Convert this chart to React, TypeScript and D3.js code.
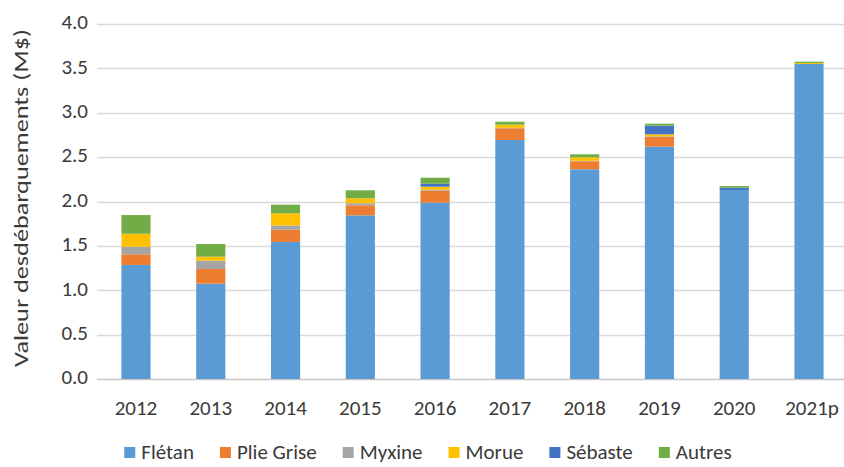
import { useEffect, useRef } from 'react';
import * as d3 from 'd3';

// Valeur des débarquements (M$) par espèce
const years = ['2012', '2013', '2014', '2015', '2016', '2017', '2018', '2019', '2020', '2021p'];
const fletan = [1.285, 1.074, 1.544, 1.844, 1.987, 2.693, 2.363, 2.618, 2.13, 3.549];
const plieGrise = [0.12, 0.166, 0.138, 0.113, 0.135, 0.132, 0.09, 0.112, 0, 0];
const myxine = [0.085, 0.093, 0.048, 0.023, 0.01, 0.005, 0.005, 0.005, 0, 0];
const morue = [0.147, 0.045, 0.137, 0.056, 0.035, 0.035, 0.04, 0.022, 0, 0.011];
const sebaste = [0, 0, 0, 0, 0.033, 0, 0, 0.097, 0.026, 0];
const autres = [0.21, 0.143, 0.097, 0.09, 0.068, 0.034, 0.034, 0.023, 0.019, 0.015];

const seriesNames = ['Flétan', 'Plie Grise', 'Myxine', 'Morue', 'Sébaste', 'Autres'];
const seriesValues = [fletan, plieGrise, myxine, morue, sebaste, autres];
const colors = ['#5B9BD5', '#ED7D31', '#A5A5A5', '#FFC000', '#4472C4', '#70AD47'];
const yTicks = [0, 0.5, 1, 1.5, 2, 2.5, 3, 3.5, 4];

const FONT = 'Carlito, Calibri, "Liberation Sans", Arial, sans-serif';

export default function App() {
  const svgRef = useRef<SVGSVGElement>(null);

  useEffect(() => {
    if (!svgRef.current) return;
    const W = 844;
    const H = 467;
    const svg = d3.select(svgRef.current);
    svg.selectAll('*').remove();
    svg.attr('width', W).attr('height', H).attr('viewBox', `0 0 ${W} ${H}`);

    const rows = years.map((yr, i) => {
      const row: Record<string, number | string> = { year: yr };
      seriesNames.forEach((s, j) => (row[s] = seriesValues[j][i]));
      return row;
    });

    const x = d3
      .scaleBand()
      .domain(years)
      .range([98.6, 846.4])
      .paddingInner(0.61)
      .paddingOuter(0.305);
    const y = d3.scaleLinear().domain([0, 4]).range([379, 24]);

    // grid
    svg
      .append('g')
      .selectAll('line')
      .data(yTicks)
      .join('line')
      .attr('x1', 97)
      .attr('x2', W)
      .attr('y1', (d) => Math.round(y(d)) + 0.5)
      .attr('y2', (d) => Math.round(y(d)) + 0.5)
      .attr('stroke', (d) => (d === 0 ? '#c8c8c8' : '#d9d9d9'))
      .attr('stroke-width', 1.5);

    // y tick labels
    svg
      .append('g')
      .selectAll('text')
      .data(yTicks)
      .join('text')
      .attr('x', 88)
      .attr('y', (d) => y(d) - 2)
      .attr('dy', '0.35em')
      .attr('text-anchor', 'end')
      .attr('font-family', FONT)
      .attr('font-size', 21)
      .attr('fill', '#3a3a3a')
      .text((d) => d3.format('.1f')(d));

    // stacked bars
    const stack = d3.stack<Record<string, number | string>>().keys(seriesNames)
      .value((d, k) => d[k] as number);
    const layers = stack(rows);

    svg
      .append('g')
      .selectAll('g')
      .data(layers)
      .join('g')
      .attr('fill', (_, i) => colors[i])
      .selectAll('rect')
      .data((d) => d)
      .join('rect')
      .attr('x', (d) => x(d.data.year as string) ?? 0)
      .attr('width', x.bandwidth())
      .attr('y', (d) => y(d[1]))
      .attr('height', (d) => Math.max(0, y(d[0]) - y(d[1])));

    // x labels
    svg
      .append('g')
      .selectAll('text')
      .data(years)
      .join('text')
      .attr('x', (d) => (x(d) ?? 0) + x.bandwidth() / 2 + (d.endsWith('p') ? 3 : 0))
      .attr('y', 415)
      .attr('text-anchor', 'middle')
      .attr('font-family', FONT)
      .attr('font-size', 21)
      .attr('fill', '#3a3a3a')
      .text((d) => d);

    // y axis title
    svg
      .append('text')
      .attr('transform', 'translate(28,198) rotate(-90)')
      .attr('text-anchor', 'middle')
      .attr('font-family', FONT)
      .attr('font-size', 21)
      .attr('fill', '#3a3a3a')
      .attr('textLength', 338)
      .attr('lengthAdjust', 'spacingAndGlyphs')
      .text('Valeur desdébarquements (M$)');

    // legend
    const legendY = 452;
    const legend = svg.append('g');
    let cx = 0;
    seriesNames.forEach((name, i) => {
      const g = legend.append('g');
      g.append('rect').attr('x', 0).attr('y', -5).attr('width', 11).attr('height', 11).attr('fill', colors[i]);
      const t = g
        .append('text')
        .attr('x', 17)
        .attr('dy', '0.35em')
        .attr('font-family', FONT)
        .attr('font-size', 21)
        .attr('fill', '#3a3a3a')
        .text(name);
      const w = 17 + (t.node()?.getComputedTextLength() ?? 0);
      g.attr('transform', `translate(${cx},0)`);
      cx += w + 26;
    });
    const total = cx - 26;
    legend.attr('transform', `translate(${428 - total / 2},${legendY})`);
  }, []);

  return (
    <svg
      ref={svgRef}
      style={{ position: 'absolute', left: 0, top: 0, display: 'block', background: '#fff' }}
    />
  );
}
